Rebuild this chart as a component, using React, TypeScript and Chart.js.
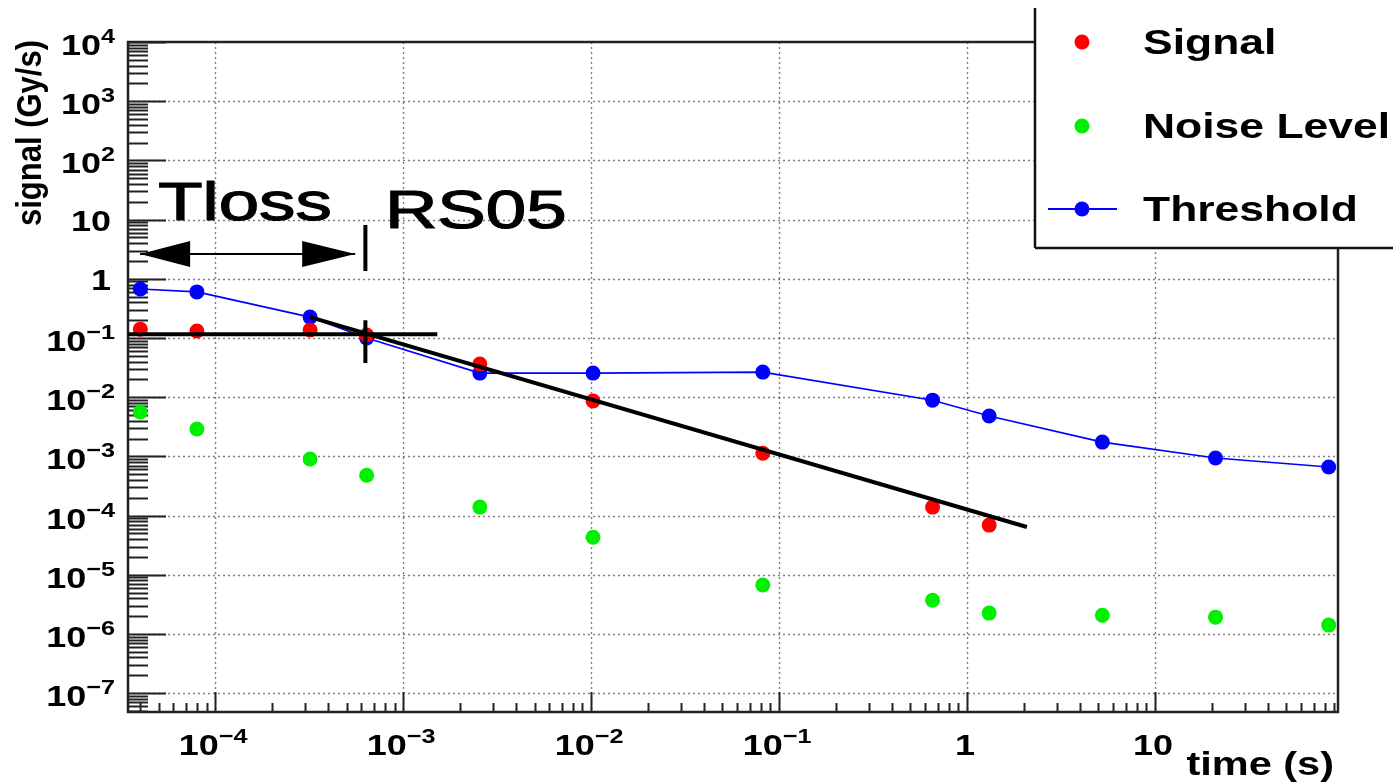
import React, { useEffect, useRef } from 'react';
import { Chart, registerables } from 'chart.js';

Chart.register(...registerables);

// ---- data ----
const timeS = [4e-5, 8e-5, 3.2e-4, 6.4e-4, 2.56e-3, 1.024e-2, 8.192e-2, 0.65536, 1.31072, 5.24288, 20.97152, 83.88608];
const thresholdGyS = [0.67, 0.6, 0.225, 0.1, 0.0255, 0.0255, 0.0265, 8.9e-3, 4.8e-3, 1.74e-3, 9.4e-4, 6.6e-4];
const signalGyS = [0.141, 0.131, 0.136, 0.112, 0.0362, 8.6e-3, 1.13e-3, 1.39e-4, 6.9e-5];
const noiseGyS = [5.6e-3, 2.9e-3, 9.0e-4, 4.8e-4, 1.39e-4, 4.3e-5, 6.7e-6, 3.7e-6, 2.25e-6, 2.07e-6, 1.92e-6, 1.41e-6];

// annotation lines (x, y pairs in data units)
const fitLineX = [3.2e-4, 2.08];
const fitLineY = [0.225, 6.4e-5];
const crossHX = [3.44e-5, 1.52e-3];
const crossHY = [0.116, 0.116];
const crossVX = [6.3e-4, 6.3e-4];
const crossVY = [0.2, 0.0377];
const tlossArrowX = [3.99e-5, 5.56e-4];
const tlossArrowY = [2.62, 2.62];
const tlossBarX = [6.3e-4, 6.3e-4];
const tlossBarY = [8.09, 1.35];

const annotationLabels = ['Tloss', 'RS05'];
const annotationX = [4.98e-5, 8.0e-4];
const annotationY = [9.8, 7.2];

const legendLabels = ['Signal', 'Noise Level', 'Threshold'];
const xTickExponents = [-4, -3, -2, -1, 0, 1];
const yTickExponents = [-7, -6, -5, -4, -3, -2, -1, 0, 1, 2, 3, 4];

const X_MIN = 3.44e-5;
const X_MAX = 94;
const Y_MIN = 4.8e-8;
const Y_MAX = 1e4;

const RED = '#ff0000';
const GREEN = '#00f000';
const BLUE = '#0000ff';
const FONT = '"Liberation Sans", Arial, Helvetica, sans-serif';

function pts(xs: number[], ys: number[]) {
  return ys.map((v, i) => ({ x: xs[i], y: v }));
}

function drawText(ctx: CanvasRenderingContext2D, s: string, x: number, y: number, font: string, align: CanvasTextAlign, sx: number, stroke = 0) {
  ctx.save();
  ctx.font = font;
  ctx.textAlign = align;
  ctx.textBaseline = 'alphabetic';
  ctx.fillStyle = '#000';
  ctx.translate(x, y);
  ctx.scale(sx, 1);
  ctx.fillText(s, 0, 0);
  if (stroke > 0) {
    ctx.strokeStyle = '#000';
    ctx.lineWidth = stroke;
    ctx.strokeText(s, 0, 0);
  }
  ctx.restore();
}

function textWidth(ctx: CanvasRenderingContext2D, s: string, font: string, sx: number) {
  ctx.save();
  ctx.font = font;
  const w = ctx.measureText(s).width * sx;
  ctx.restore();
  return w;
}

function seg(ctx: CanvasRenderingContext2D, x1: number, y1: number, x2: number, y2: number) {
  ctx.beginPath();
  ctx.moveTo(x1, y1);
  ctx.lineTo(x2, y2);
  ctx.stroke();
}

const LBL_SX = 1.2;
const BASE_FONT = `bold 30px ${FONT}`;
const SUP_FONT = `bold 21px ${FONT}`;

function powerLabel(ctx: CanvasRenderingContext2D, e: number, anchorX: number, baseline: number, mode: 'center' | 'right') {
  if (e === 0 || e === 1) {
    const s = e === 0 ? '1' : '10';
    if (mode === 'center') drawText(ctx, s, anchorX, baseline, BASE_FONT, 'center', LBL_SX);
    else drawText(ctx, s, anchorX - 4, baseline - 2, BASE_FONT, 'right', LBL_SX);
    return;
  }
  const sup = e < 0 ? '\u2212' + String(-e) : String(e);
  const wb = textWidth(ctx, '10', BASE_FONT, LBL_SX);
  const ws = textWidth(ctx, sup, SUP_FONT, LBL_SX);
  const W = wb + ws;
  const start = mode === 'center' ? anchorX - W / 2 : anchorX - W;
  drawText(ctx, '10', start, baseline, BASE_FONT, 'left', LBL_SX);
  drawText(ctx, sup, start + wb, baseline - 12, SUP_FONT, 'left', LBL_SX);
}

const rootPlugin = {
  id: 'rootStyle',
  beforeDatasetsDraw(chart: any) {
    const { ctx, chartArea: a } = chart;
    const xs = chart.scales.x;
    const ys = chart.scales.y;
    ctx.save();
    // dotted grid at decades
    ctx.strokeStyle = 'rgba(0,0,0,0.5)';
    ctx.lineWidth = 1.4;
    ctx.setLineDash([2, 3]);
    for (const e of xTickExponents) {
      const px = Math.round(xs.getPixelForValue(Math.pow(10, e))) + 0.5;
      seg(ctx, px, a.top, px, a.bottom);
    }
    for (const e of yTickExponents) {
      if (e === 4) continue;
      const py = Math.round(ys.getPixelForValue(Math.pow(10, e))) + 0.5;
      seg(ctx, a.left, py, a.right, py);
    }
    ctx.setLineDash([]);
    // ticks
    ctx.strokeStyle = '#222';
    ctx.lineWidth = 2;
    for (let e = -9; e <= 4; e++) {
      for (let k = 1; k <= 9; k++) {
        const v = k * Math.pow(10, e);
        if (v < Y_MIN * 0.999 || v > Y_MAX * 1.001) continue;
        const py = Math.round(ys.getPixelForValue(v)) + 0.5;
        const len = k === 1 ? 38 : 20;
        seg(ctx, a.left, py, a.left + len, py);
      }
    }
    for (let e = -6; e <= 2; e++) {
      for (let k = 1; k <= 9; k++) {
        const v = k * Math.pow(10, e);
        if (v < X_MIN * 0.999 || v > X_MAX * 1.001) continue;
        const px = Math.round(xs.getPixelForValue(v)) + 0.5;
        const len = k === 1 ? 20 : 9;
        seg(ctx, px, a.bottom, px, a.bottom - len);
      }
    }
    // frame
    ctx.strokeStyle = '#222';
    ctx.lineWidth = 2.5;
    ctx.strokeRect(a.left, a.top, a.right - a.left, a.bottom - a.top);
    ctx.restore();
  },
  afterDatasetsDraw(chart: any) {
    const { ctx } = chart;
    const xs = chart.scales.x;
    const ys = chart.scales.y;
    ctx.save();
    // arrow heads of the Tloss arrow
    const ay = ys.getPixelForValue(tlossArrowY[0]);
    const lx = xs.getPixelForValue(tlossArrowX[0]);
    const rx = xs.getPixelForValue(tlossArrowX[1]);
    ctx.fillStyle = '#000';
    ctx.beginPath();
    ctx.moveTo(lx, ay);
    ctx.lineTo(lx + 50, ay - 13);
    ctx.lineTo(lx + 50, ay + 13);
    ctx.closePath();
    ctx.fill();
    ctx.beginPath();
    ctx.moveTo(rx, ay);
    ctx.lineTo(rx - 53, ay - 13);
    ctx.lineTo(rx - 53, ay + 13);
    ctx.closePath();
    ctx.fill();
    // annotation texts
    annotationLabels.forEach((s, i) => {
      drawText(ctx, s, xs.getPixelForValue(annotationX[i]), ys.getPixelForValue(annotationY[i]), `53px ${FONT}`, 'left', 1.37, 1.2);
    });
    // tick labels
    for (const e of xTickExponents) {
      const px = xs.getPixelForValue(Math.pow(10, e));
      powerLabel(ctx, e, px - 2, 755, 'center');
    }
    for (const e of yTickExponents) {
      const py = ys.getPixelForValue(Math.pow(10, e));
      powerLabel(ctx, e, 115, py + 13, 'right');
    }
    // axis titles
    drawText(ctx, 'time (s)', 1334, 775, `bold 34px ${FONT}`, 'right', 1.22);
    ctx.save();
    ctx.translate(41, 40);
    ctx.rotate(-Math.PI / 2);
    ctx.scale(1, 1.15);
    ctx.font = `bold 31px ${FONT}`;
    ctx.textAlign = 'right';
    ctx.textBaseline = 'alphabetic';
    ctx.fillStyle = '#000';
    ctx.fillText('signal (Gy/s)', 0, 0);
    ctx.restore();
    // legend box
    const bx = 1035;
    const by = 248;
    ctx.fillStyle = '#fff';
    ctx.fillRect(bx, 0, chart.width - bx, by);
    ctx.strokeStyle = '#111';
    ctx.lineWidth = 2.5;
    seg(ctx, bx, 8, bx, by);
    seg(ctx, bx, by, chart.width, by);
    const rows = [42, 126, 209];
    const colors = [RED, GREEN, BLUE];
    const mx = 1082;
    ctx.strokeStyle = BLUE;
    ctx.lineWidth = 2;
    seg(ctx, 1048, rows[2], 1117, rows[2]);
    rows.forEach((ry, i) => {
      ctx.fillStyle = colors[i];
      ctx.beginPath();
      ctx.arc(mx, ry, 7.5, 0, Math.PI * 2);
      ctx.fill();
      drawText(ctx, legendLabels[i], 1143, ry + 12, `bold 35px ${FONT}`, 'left', 1.27);
    });
    ctx.restore();
  },
};

export default function App() {
  const ref = useRef<HTMLCanvasElement>(null);
  useEffect(() => {
    const canvas = ref.current;
    if (!canvas) return;
    const lineDs = (xsArr: number[], ysArr: number[], w: number) => ({
      data: pts(xsArr, ysArr),
      showLine: true,
      borderColor: '#000',
      backgroundColor: '#000',
      borderWidth: w,
      pointRadius: 0,
      pointHoverRadius: 0,
      borderCapStyle: 'butt',
    });
    const chart = new Chart(canvas, {
      type: 'scatter',
      data: {
        datasets: [
          lineDs(fitLineX, fitLineY, 4),
          lineDs(crossHX, crossHY, 4),
          lineDs(crossVX, crossVY, 4),
          lineDs(tlossArrowX, tlossArrowY, 2),
          lineDs(tlossBarX, tlossBarY, 4),
          {
            label: 'Signal',
            data: pts(timeS, signalGyS),
            showLine: false,
            pointRadius: 7.5,
            pointBorderWidth: 0,
            backgroundColor: RED,
            borderColor: RED,
          },
          {
            label: 'Noise Level',
            data: pts(timeS, noiseGyS),
            showLine: false,
            pointRadius: 7.5,
            pointBorderWidth: 0,
            backgroundColor: GREEN,
            borderColor: GREEN,
          },
          {
            label: 'Threshold',
            data: pts(timeS, thresholdGyS),
            showLine: true,
            borderColor: BLUE,
            borderWidth: 1.6,
            pointRadius: 7.5,
            pointBorderWidth: 0,
            pointBackgroundColor: BLUE,
            backgroundColor: BLUE,
          },
        ] as any,
      },
      options: {
        responsive: false,
        animation: false,
        devicePixelRatio: 1,
        events: [],
        layout: { padding: { left: 128, right: 55, top: 42, bottom: 70 } },
        scales: {
          x: { type: 'logarithmic', min: X_MIN, max: X_MAX, display: false },
          y: { type: 'logarithmic', min: Y_MIN, max: Y_MAX, display: false },
        },
        plugins: { legend: { display: false }, tooltip: { enabled: false } },
      } as any,
      plugins: [rootPlugin as any],
    });
    return () => chart.destroy();
  }, []);
  return (
    <div style={{ position: 'absolute', left: 0, top: 0, width: 1393, height: 782, background: '#fff' }}>
      <canvas ref={ref} width={1393} height={782} style={{ display: 'block' }} />
    </div>
  );
}
